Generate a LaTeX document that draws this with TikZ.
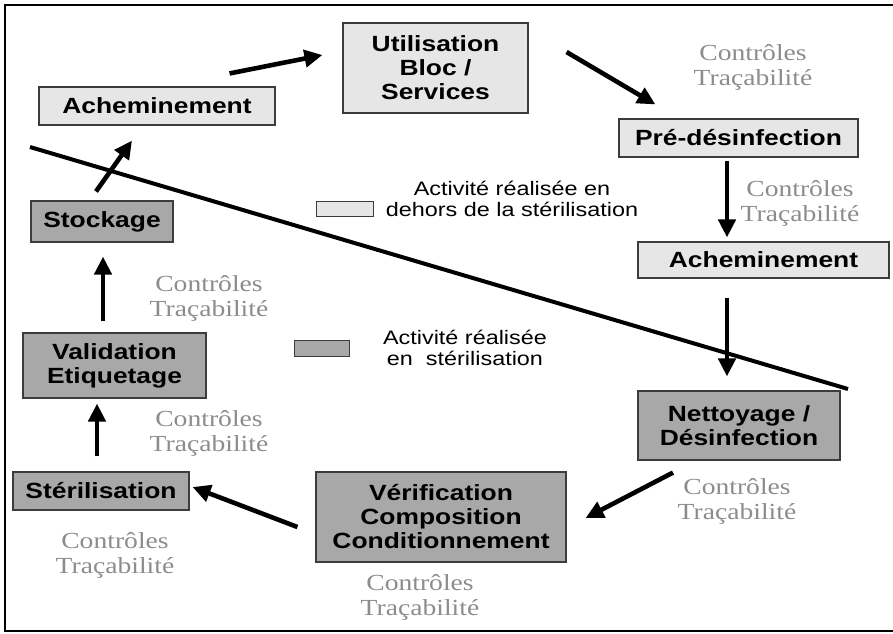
\documentclass[tikz,border=0pt]{standalone}
\usepackage{fontspec}
\usetikzlibrary{arrows.meta,calc}
\newfontfamily\boxfont{Liberation Sans}[FakeStretch=1.2]
\newfontfamily\notefont{Liberation Serif}[FakeStretch=1.2]
\definecolor{outside}{RGB}{230,230,230}
\definecolor{inside}{RGB}{168,168,168}
\definecolor{boxline}{RGB}{60,60,60}
\definecolor{ctrl}{RGB}{140,140,140}
\tikzset{
  stage/.style={draw=boxline, line width=1.1pt, inner sep=0pt, align=center,
    font=\boxfont\bfseries\fontsize{22}{24}\selectfont, text=black},
  outstage/.style={stage, fill=outside},
  instage/.style={stage, fill=inside},
  legendbox/.style={draw=boxline, line width=1pt, inner sep=0pt},
  legendtext/.style={align=center, font=\boxfont\fontsize{19.5}{21}\selectfont},
  ctrlnote/.style={align=center, text=ctrl, font=\notefont\fontsize{23}{25}\selectfont},
  flow/.style={line width=4.6pt, -{Triangle[length=18pt,width=17pt]}},
  divider/.style={line width=4pt}
}
\begin{document}
\begin{tikzpicture}[x=1pt,y=-1pt]
\useasboundingbox (0,0) rectangle (893,633);
\begin{scope}
\clip (0,0) rectangle (893,633);
\draw[line width=1.3pt] (5,5) rectangle (900,631);
\end{scope}

% stages outside the sterilisation unit
\node[outstage, minimum width=236pt, minimum height=38pt] (ach1) at (157,106) {Acheminement};
\node[outstage, minimum width=185pt, minimum height=90pt] (util) at (435.5,68) {Utilisation\\Bloc /\\Services};
\node[outstage, minimum width=239pt, minimum height=38pt] (pre) at (738.5,138) {Pré-désinfection};
\node[outstage, minimum width=251pt, minimum height=36pt] (ach2) at (763.5,260) {Acheminement};

% stages inside the sterilisation unit
\node[instage, minimum width=142pt, minimum height=41pt] (stock) at (102,221.5) {Stockage};
\node[instage, minimum width=183pt, minimum height=65pt] (valid) at (114.5,365.5) {Validation\\Etiquetage};
\node[instage, minimum width=176pt, minimum height=38pt] (steril) at (101,491) {Stérilisation};
\node[instage, minimum width=250pt, minimum height=90pt] (verif) at (441,517) {Vérification\\Composition\\Conditionnement};
\node[instage, minimum width=202pt, minimum height=69pt] (nett) at (739,425.5) {Nettoyage /\\Désinfection};

% legend
\node[legendbox, fill=outside, minimum width=57pt, minimum height=15pt] (legout) at (344.5,208.5) {};
\node[legendtext] (legouttxt) at (512,199) {Activité réalisée en\\dehors de la stérilisation};
\node[legendbox, fill=inside, minimum width=55pt, minimum height=16pt] (legin) at (321.5,348) {};
\node[legendtext] (legintxt) at (465,348) {Activité réalisée\\en~~stérilisation};

% boundary of the sterilisation unit
\coordinate (divA) at (30,147);
\coordinate (divB) at (848,389);
\draw[divider] (divA) -- (divB);

% controls and traceability notes
\node[ctrlnote] (c1) at (753,67) {Contrôles\\Traçabilité};
\node[ctrlnote] (c2) at (800,203) {Contrôles\\Traçabilité};
\node[ctrlnote] (c3) at (737,501) {Contrôles\\Traçabilité};
\node[ctrlnote] (c4) at (420,597) {Contrôles\\Traçabilité};
\node[ctrlnote] (c5) at (115,555) {Contrôles\\Traçabilité};
\node[ctrlnote] (c6) at (209,433) {Contrôles\\Traçabilité};
\node[ctrlnote] (c7) at (209,298) {Contrôles\\Traçabilité};

% flow of the medical devices
\draw[flow] ($(ach1.north east)+(-46,-13)$) -- ($(util.west)+(-20,-13)$);
\draw[flow] ($(util.east)+(38,-16)$) -- ($(pre.north west)+(37,-14)$);
\draw[flow] ($(pre.south)+(-11.5,3)$) -- ($(ach2.north)+(-36.5,-4)$);
\draw[flow] ($(ach2.south)+(-36.5,19)$) -- ($(nett.north)+(-12,-14)$);
\draw[flow] ($(nett.south)+(-66,12)$) -- ($(verif.east)+(19,1)$);
\draw[flow] ($(verif.west)+(-18,10)$) -- ($(steril.east)+(3,-4)$);
\draw[flow] ($(steril.north)+(-4,-15)$) -- ($(valid.south)+(-17.5,5)$);
\draw[flow] ($(valid.north)+(-11.5,-11)$) -- ($(stock.south)+(1,14)$);
\draw[flow] ($(stock.north)+(-6,-9)$) -- ($(ach1.south)+(-25,15)$);
\end{tikzpicture}
\end{document}
